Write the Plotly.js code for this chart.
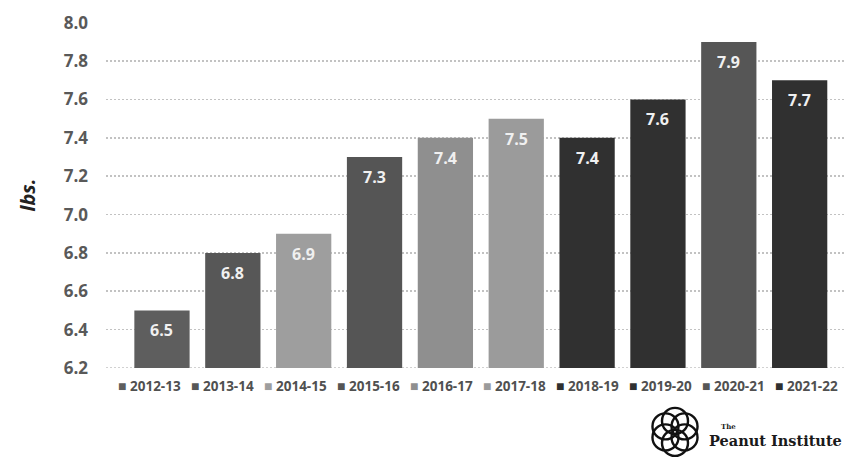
<!DOCTYPE html>
<html>
<head>
<meta charset="utf-8">
<script src="https://cdn.plot.ly/plotly-3.0.1.min.js"></script>
<style>html,body{margin:0;padding:0;background:#fff;}#chart{width:847px;height:458px;}</style>
</head>
<body>
<div id="chart"></div>
<script>
const seasons = ["2012-13","2013-14","2014-15","2015-16","2016-17","2017-18","2018-19","2019-20","2020-21","2021-22"];
const values  = [6.5, 6.8, 6.9, 7.3, 7.4, 7.5, 7.4, 7.6, 7.9, 7.7];
const colors  = ["#5e5e5e","#575757","#9e9e9e","#555555","#8f8f8f","#9b9b9b","#303030","#303030","#565656","#303030"];
const yTicks  = [6.2, 6.4, 6.6, 6.8, 7.0, 7.2, 7.4, 7.6, 7.8, 8.0];

const W = 847, H = 458;
const mL = 106, mR = 2, mT = 21.5, mB = 90;
const pw = W - mL - mR, ph = H - mT - mB;
const px = x => (x - mL) / pw;
const py = y => (H - mB - y) / ph;

const traces = seasons.map((s, i) => ({
  type: 'bar',
  name: s,
  x: [s],
  y: [values[i]],
  width: 0.78,
  marker: {color: colors[i], line: {width: 0}},
  showlegend: false,
  hoverinfo: 'x+y'
}));

const annotations = [];
// value labels inside bars
seasons.forEach((s, i) => {
  annotations.push({
    x: s, y: values[i], xref: 'x', yref: 'y',
    text: '<b>' + values[i].toFixed(1) + '</b>',
    showarrow: false, yanchor: 'middle', yshift: -20,
    font: {family: 'Open Sans', size: 16, color: '#f0f0f0'}
  });
});
// legend row
seasons.forEach((s, i) => {
  annotations.push({
    x: px(149 + 73.1 * i), y: py(386), xref: 'paper', yref: 'paper',
    text: '<span style="color:' + colors[i] + ';font-size:14px">■</span> <b>' + s + '</b>',
    showarrow: false, xanchor: 'center', yanchor: 'middle',
    font: {family: 'Open Sans', size: 13.5, color: '#505050'}
  });
});
// logo text
annotations.push({
  x: px(707), y: py(441), xref: 'paper', yref: 'paper',
  text: '<b>Peanut Institute</b>', showarrow: false, xanchor: 'left', yanchor: 'middle',
  font: {family: 'DejaVu Serif', size: 14.5, color: '#1a1a1a'}
});
annotations.push({
  x: px(719), y: py(427), xref: 'paper', yref: 'paper',
  text: '<b>The</b>', showarrow: false, xanchor: 'left', yanchor: 'middle',
  font: {family: 'DejaVu Serif', size: 7, color: '#1a1a1a'}
});

// logo rosette
const shapes = [];
const cx = 675, cy = 432, R = 11, r = 13;
for (let k = 0; k < 6; k++) {
  const a = Math.PI / 2 + k * Math.PI / 3;
  const ox = R * Math.cos(a), oy = R * Math.sin(a);
  shapes.push({
    type: 'circle', xref: 'paper', yref: 'paper',
    xsizemode: 'pixel', ysizemode: 'pixel',
    xanchor: px(cx), yanchor: py(cy),
    x0: ox - r, x1: ox + r, y0: oy - r, y1: oy + r,
    line: {color: '#111', width: 2.4}, fillcolor: 'rgba(0,0,0,0)'
  });
}
// dotted baseline at axis minimum
shapes.push({
  type: 'line', xref: 'paper', yref: 'y', x0: 0, x1: 1, y0: yTicks[0], y1: yTicks[0],
  line: {color: '#c2c2c2', width: 1.6, dash: '2px,2px'}, layer: 'below'
});

const layout = {
  width: W, height: H,
  margin: {l: mL, r: mR, t: mT, b: mB, pad: 0},
  paper_bgcolor: '#fff', plot_bgcolor: '#fff',
  barmode: 'overlay',
  showlegend: false,
  font: {family: 'Open Sans', color: '#555'},
  xaxis: {
    type: 'category', categoryorder: 'array', categoryarray: seasons,
    range: [-0.79, 9.64], showticklabels: false, showgrid: false,
    zeroline: false, showline: false, ticks: ''
  },
  yaxis: {
    range: [6.2, 8.004], tickvals: yTicks, ticktext: yTicks.map(v => v.toFixed(1)),
    showgrid: true, gridcolor: '#c2c2c2', gridwidth: 1.6, griddash: '2px,2px',
    zeroline: false, showline: false, ticks: '', ticklabelstandoff: 17,
    tickfont: {family: 'Open Sans', size: 17, weight: 'bold', color: '#595959'},
    title: {text: '<b><i>lbs.</i></b>', standoff: 22, font: {family: 'Open Sans', size: 20, color: '#222'}}
  },
  annotations: annotations,
  shapes: shapes
};

Plotly.newPlot('chart', traces, layout, {displayModeBar: false, staticPlot: true});
</script>
</body>
</html>
